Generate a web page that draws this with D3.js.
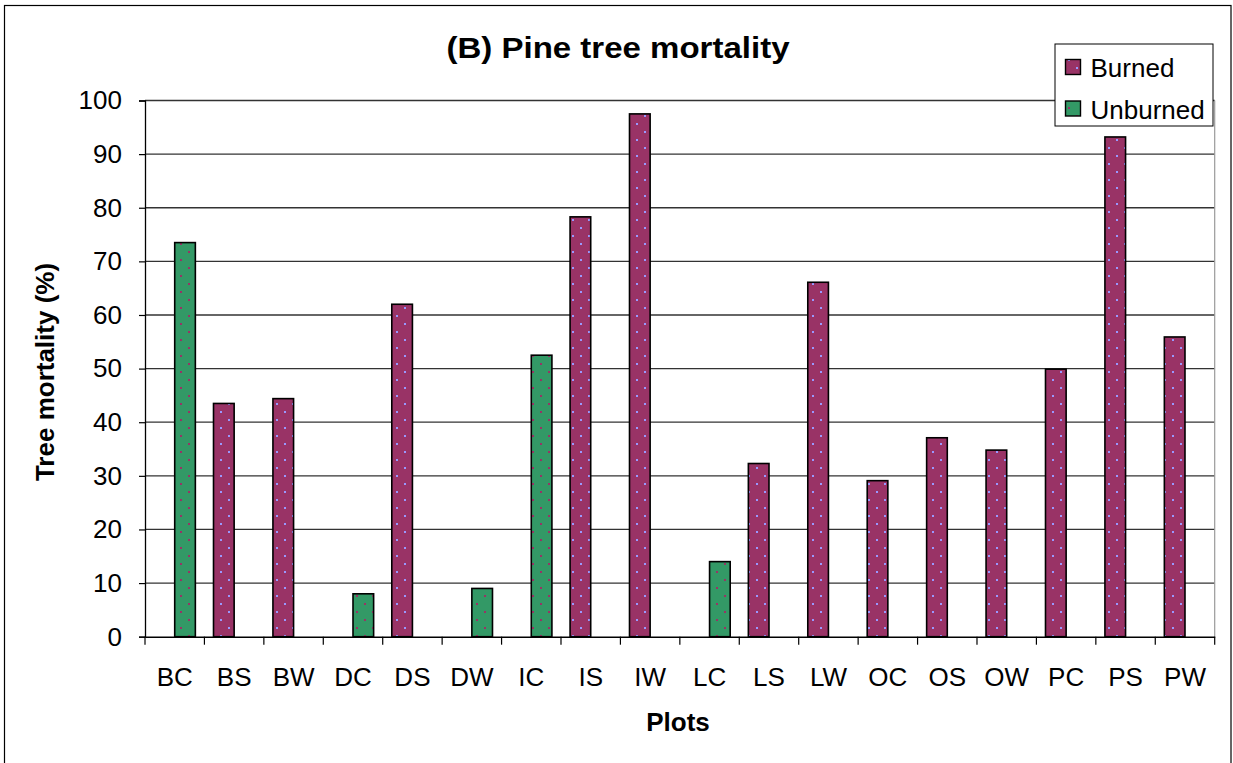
<!DOCTYPE html>
<html>
<head>
<meta charset="utf-8">
<script src="https://cdn.jsdelivr.net/npm/d3@7"></script>
<style>
  html, body { margin: 0; padding: 0; background: #fff; }
  svg { display: block; font-family: "Liberation Sans", Arial, sans-serif; }
</style>
</head>
<body>
<svg id="chart" width="1233" height="763"></svg>
<script>
const categories = ["BC","BS","BW","DC","DS","DW","IC","IS","IW","LC","LS","LW","OC","OS","OW","PC","PS","PW"];
const burned   = [null,43.5,44.4,null,62.0,null,null,78.3,97.5,null,32.3,66.1,29.1,37.1,34.8,49.9,93.2,55.9];
const unburned = [73.5,null,null,8.0,null,9.0,52.5,null,null,14.0,null,null,null,null,null,null,null,null];
const seriesNames = ["Burned","Unburned"];
const yTicks = [0,10,20,30,40,50,60,70,80,90,100];
const title = "(B) Pine tree mortality";
const xTitle = "Plots";
const yTitle = "Tree mortality (%)";

const svg = d3.select("#chart");
const margin = {left: 145, right: 1233 - 1214.7, top: 100.5, bottom: 763 - 636.7};
const W = 1233, H = 763;
const FONT = "Liberation Sans, Arial, sans-serif";

// outer frame
svg.append("rect").attr("x", 4.5).attr("y", 5.5).attr("width", 1231 - 4.5).attr("height", H + 10)
  .attr("fill", "#fff").attr("stroke", "#000").attr("stroke-width", 1.2);

// patterns
const defs = svg.append("defs");
function makePattern(id, bg, dot) {
  const p = defs.append("pattern").attr("id", id).attr("patternUnits", "userSpaceOnUse")
    .attr("width", 16).attr("height", 16);
  p.append("rect").attr("width", 16).attr("height", 16).attr("fill", bg);
  p.append("rect").attr("x", 4).attr("y", 3).attr("width", 2).attr("height", 2).attr("fill", dot);
  p.append("rect").attr("x", 12).attr("y", 11).attr("width", 2).attr("height", 2).attr("fill", dot);
}
makePattern("patB", "#993366", "#9999FF");
makePattern("patU", "#339966", "#993366");
const fills = {Burned: "url(#patB)", Unburned: "url(#patU)"};

const x = d3.scaleBand().domain(categories).range([margin.left, W - margin.right]).paddingInner(0).paddingOuter(0);
const xs = d3.scaleBand().domain(seriesNames).range([0, x.bandwidth()]).paddingInner(0).paddingOuter(0.44);
const y = d3.scaleLinear().domain([0, 100]).range([H - margin.bottom, margin.top]);

// gridlines
svg.append("g").selectAll("line").data(yTicks.filter(d => d > 0)).join("line")
  .attr("x1", margin.left).attr("x2", W - margin.right)
  .attr("y1", d => y(d)).attr("y2", d => y(d))
  .attr("stroke", "#333").attr("stroke-width", 1.3);

// plot area right border
svg.append("line").attr("x1", W - margin.right).attr("x2", W - margin.right)
  .attr("y1", y(100)).attr("y2", y(0)).attr("stroke", "#999").attr("stroke-width", 1.2);

// bars
const data = [];
categories.forEach((c, i) => {
  if (burned[i] != null) data.push({cat: c, s: "Burned", v: burned[i]});
  if (unburned[i] != null) data.push({cat: c, s: "Unburned", v: unburned[i]});
});
svg.append("g").selectAll("rect").data(data).join("rect")
  .attr("x", d => x(d.cat) + xs(d.s))
  .attr("y", d => y(d.v))
  .attr("width", xs.bandwidth())
  .attr("height", d => y(0) - y(d.v))
  .attr("fill", d => fills[d.s])
  .attr("stroke", "#000").attr("stroke-width", 1.6);

// y axis
const yAxis = d3.axisLeft(y).tickValues(yTicks).tickSize(6).tickPadding(17);
const gy = svg.append("g").attr("transform", `translate(${margin.left},0)`).call(yAxis);
gy.select(".domain").attr("stroke", "#000").attr("stroke-width", 1.3);
gy.selectAll(".tick line").attr("stroke", "#000").attr("stroke-width", 1.2);
gy.selectAll(".tick text").attr("font-size", 26).attr("fill", "#000").attr("font-family", FONT);

// x axis
const xAxis = d3.axisBottom(x).tickSize(0).tickPadding(31);
const gx = svg.append("g").attr("transform", `translate(0,${y(0)})`).call(xAxis);
gx.select(".domain").attr("stroke", "#000").attr("stroke-width", 1.6);
gx.selectAll(".tick text").attr("font-size", 26).attr("fill", "#000").attr("font-family", FONT);
// category boundary ticks
const bounds = categories.map(c => x(c)).concat([x(categories[categories.length - 1]) + x.bandwidth()]);
svg.append("g").selectAll("line").data(bounds).join("line")
  .attr("x1", d => d).attr("x2", d => d)
  .attr("y1", y(0)).attr("y2", y(0) + 8)
  .attr("stroke", "#000").attr("stroke-width", 1.2);

// titles
svg.append("text").attr("x", 618).attr("y", 58).attr("text-anchor", "middle")
  .attr("font-size", 30).attr("font-weight", "bold")
  .attr("textLength", 343).attr("lengthAdjust", "spacingAndGlyphs").text(title);
svg.append("text").attr("x", 678).attr("y", 731).attr("text-anchor", "middle")
  .attr("font-size", 26).attr("font-weight", "bold").text(xTitle);
svg.append("text").attr("transform", `translate(54,372) rotate(-90)`)
  .attr("text-anchor", "middle").attr("font-size", 26).attr("font-weight", "bold").text(yTitle);

// legend
const lg = svg.append("g");
lg.append("rect").attr("x", 1055).attr("y", 44).attr("width", 158).attr("height", 82)
  .attr("fill", "#fff").attr("stroke", "#000").attr("stroke-width", 1);
seriesNames.forEach((s, i) => {
  const yy = 59.5 + i * 41.5;
  lg.append("rect").attr("x", 1065.5).attr("y", yy).attr("width", 15).attr("height", 15)
    .attr("fill", fills[s]).attr("stroke", "#000").attr("stroke-width", 1.4);
  lg.append("text").attr("x", 1090.5).attr("y", yy + 17.5).attr("font-size", 26).attr("fill", "#000").text(s);
});
</script>
</body>
</html>
